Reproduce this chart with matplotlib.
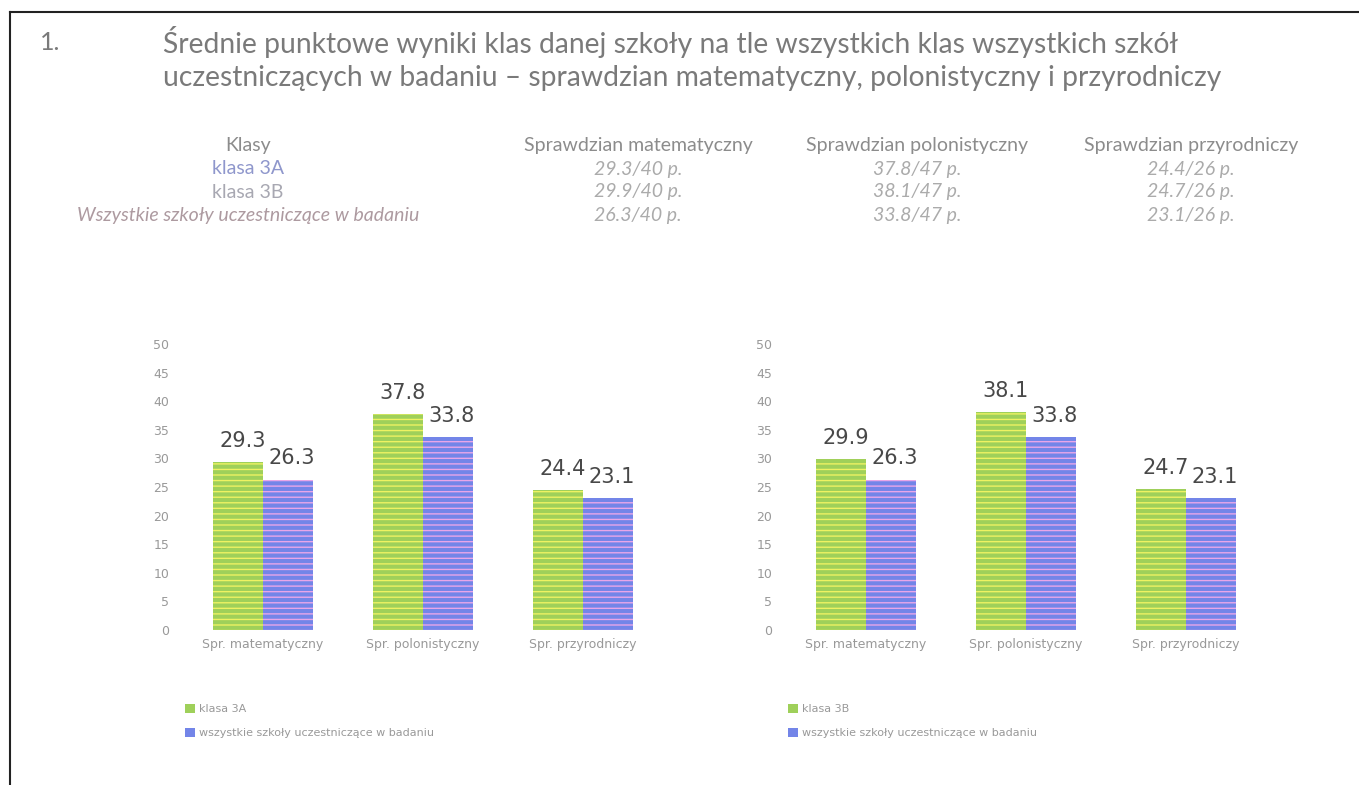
import matplotlib
matplotlib.use("Agg")
import matplotlib.pyplot as plt
from matplotlib.lines import Line2D

W, H = 1359, 785

title_no = "1."
title_lines = [
    "Średnie punktowe wyniki klas danej szkoły na tle wszystkich klas wszystkich szkół",
    "uczestniczących w badaniu – sprawdzian matematyczny, polonistyczny i przyrodniczy",
]

table_header = ["Klasy", "Sprawdzian matematyczny", "Sprawdzian polonistyczny", "Sprawdzian przyrodniczy"]
row_names = ["klasa 3A", "klasa 3B", "Wszystkie szkoły uczestniczące w badaniu"]
max_points = [40, 47, 26]

categories = ["Spr. matematyczny", "Spr. polonistyczny", "Spr. przyrodniczy"]
klasa_3a = [29.3, 37.8, 24.4]
klasa_3b = [29.9, 38.1, 24.7]
wszystkie = [26.3, 33.8, 23.1]
all_label = "wszystkie szkoły uczestniczące w badaniu"

green = "#9fd05a"
green_stripe = "#eef262"
blue = "#7385e8"
blue_stripe = "#e8a6e8"
text_gray = "#7a7a7a"

fig = plt.figure(figsize=(W / 100, H / 100), dpi=100)


def px(x, y):
    return x / W, 1 - y / H


# scan frame
fig.add_artist(Line2D([10 / W, 1], [1 - 12 / H, 1 - 12 / H], color="#222", lw=1.5))
fig.add_artist(Line2D([10 / W, 10 / W], [0, 1 - 12 / H], color="#222", lw=1.5))

# title
fig.text(*px(40, 42), title_no, fontsize=18, family="Lato", color=text_gray, va="center")
for i, line in enumerate(title_lines):
    fig.text(*px(163, 42 + 36 * i), line, fontsize=20.3, family="Lato",
             color=text_gray, va="center")

# table
col_x = [248, 638, 917, 1191]
tfs = 14
for x, h in zip(col_x, table_header):
    fig.text(*px(x, 146), h, fontsize=tfs, family="Lato", color="#8c8c8c",
             ha="center", va="center")

rows = [klasa_3a, klasa_3b, wszystkie]
row_colors = ["#8f97cc", "#a8a8b2", "#ad9aa0"]
for r, (name, vals) in enumerate(zip(row_names, rows)):
    y = 169 + 23 * r
    fig.text(*px(col_x[0], y), name, fontsize=tfs, family="Lato",
             color=row_colors[r], ha="center", va="center",
             style="italic" if r == 2 else "normal")
    for c, (v, m) in enumerate(zip(vals, max_points)):
        fig.text(*px(col_x[c + 1], y), f"{v}/{m} p.", fontsize=tfs, family="Lato",
                 color="#ababab", ha="center", va="center", style="italic")


def draw_chart(left, class_vals, class_label):
    ax = fig.add_axes([left / W, 1 - 630 / H, 480 / W, 286 / H])
    xs = list(range(len(categories)))
    bw = 0.31
    xa = [x - bw / 2 for x in xs]
    xb = [x + bw / 2 for x in xs]
    ba = ax.bar(xa, class_vals, bw, color=green, linewidth=0, label=class_label)
    bb = ax.bar(xb, wszystkie, bw, color=blue, linewidth=0, label=all_label)
    ax.bar(xa, class_vals, bw, facecolor="none", edgecolor=green_stripe, hatch="---", linewidth=0)
    ax.bar(xb, wszystkie, bw, facecolor="none", edgecolor=blue_stripe, hatch="---", linewidth=0)
    for x, v in list(zip(xa, class_vals)) + list(zip(xb, wszystkie)):
        ax.annotate(f"{v}", (x, v), xytext=(3, 8), textcoords="offset points",
                    ha="center", va="bottom", fontsize=15, color="#484848")
    ax.set_xlim(-0.5, 2.5)
    ax.set_ylim(0, 50)
    ax.set_yticks(range(0, 51, 5))
    ax.set_xticks(xs)
    ax.set_xticklabels(categories)
    ax.tick_params(length=0, labelsize=9, labelcolor="#999")
    ax.tick_params(axis="y", pad=10)
    ax.tick_params(axis="x", pad=6)
    for s in ax.spines.values():
        s.set_visible(False)
    ax.legend(handles=[ba, bb], loc="upper left",
              bbox_to_anchor=((left - 8) / W, 1 - 694 / H), bbox_transform=fig.transFigure,
              frameon=False, fontsize=8, handlelength=0.9, handleheight=0.9,
              handletextpad=0.4, labelspacing=1.2, labelcolor="#999")
    return ax


draw_chart(183, klasa_3a, "klasa 3A")
draw_chart(786, klasa_3b, "klasa 3B")

fig.savefig("out.png", dpi=100)
